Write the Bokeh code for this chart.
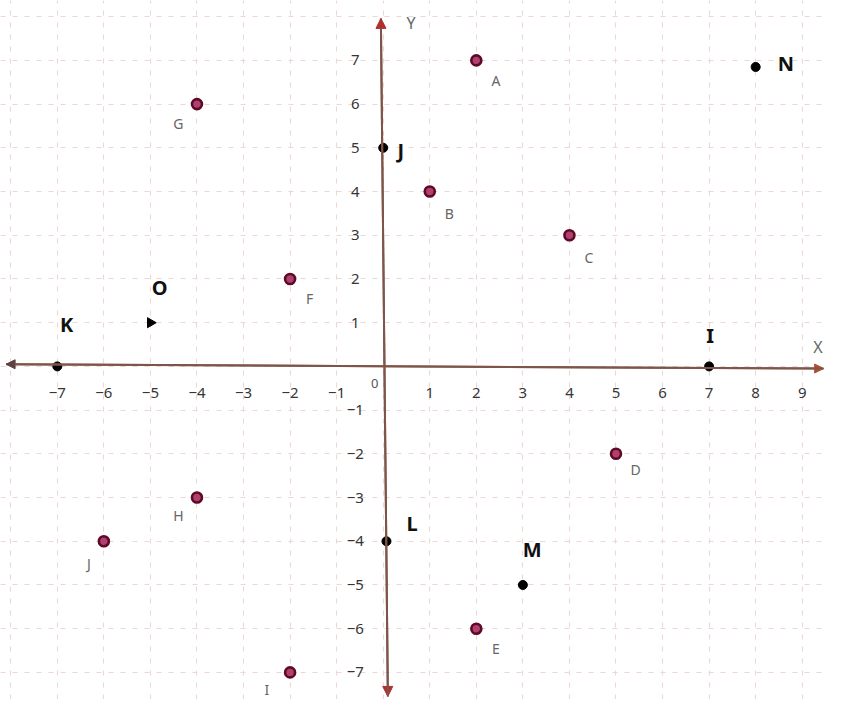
import math
from bokeh.plotting import figure
from bokeh.models import ColumnDataSource, Arrow, NormalHead, Range1d, FixedTicker
from bokeh.core.properties import value
from bokeh.embed import file_html
from bokeh.resources import INLINE

# ---- data ----
red_names = ["A", "B", "C", "D", "E", "F", "G", "H", "I", "J"]
red_x = [2, 1, 4, 5, 2, -2, -4, -4, -2, -6]
red_y = [7, 4, 3, -2, -6, 2, 6, -3, -7, -4]

black_names = ["J", "K", "L", "M", "N", "I", "O"]
black_x = [0, -7, 0.07, 3, 8, 7, -5]
black_y = [5, 0, -4, -5, 6.85, 0, 1]

x_ticks = [-7, -6, -5, -4, -3, -2, -1, 1, 2, 3, 4, 5, 6, 7, 8, 9]
y_ticks = [7, 6, 5, 4, 3, 2, 1, -1, -2, -3, -4, -5, -6, -7]

# ---- style / layout ----
W, H = 825, 699
p = figure(width=W, height=H, output_backend="svg", toolbar_location=None,
           x_range=Range1d(-8.22, 9.5), y_range=Range1d(-7.62, 8.37),
           min_border=0, background_fill_color="white", border_fill_color="white")
p.axis.visible = False
p.outline_line_color = None
p.xgrid.ticker = FixedTicker(ticks=list(range(-8, 10)))
p.ygrid.ticker = FixedTicker(ticks=list(range(-8, 9)))
for g in (p.xgrid, p.ygrid):
    g.grid_line_color = "#ecd6d6"
    g.grid_line_dash = "5 7"
    g.grid_line_width = 1.1

axis_col = "#7e5548"
p.add_layout(Arrow(x_start=-0.05, y_start=7.96, x_end=0.1, y_end=-7.55,
                   line_color=axis_col, line_width=2,
                   end=NormalHead(size=10, fill_color="#b03030", line_color="#b03030")))
p.add_layout(Arrow(x_start=0.1, y_start=-7.55, x_end=-0.05, y_end=7.96,
                   line_color=axis_col, line_width=2,
                   end=NormalHead(size=10, fill_color="#b03030", line_color="#b03030")))
p.add_layout(Arrow(x_start=-8.1, y_start=0.05, x_end=9.46, y_end=-0.05,
                   line_color=axis_col, line_width=2,
                   end=NormalHead(size=9, fill_color="#b05030", line_color="#b05030")))
p.add_layout(Arrow(x_start=9.46, y_start=-0.05, x_end=-8.1, y_end=0.05,
                   line_color=axis_col, line_width=2,
                   end=NormalHead(size=9, fill_color="#604040", line_color="#604040")))

font = value("Noto Sans")
tick_col = "#363636"
p.text(x=x_ticks, y=[-0.62] * len(x_ticks), text=[str(t).replace("-", "−") for t in x_ticks],
       text_font=font, text_font_size="15px", text_color=tick_col,
       text_align="center", text_baseline="middle")
p.text(x=[-0.6] * len(y_ticks), y=y_ticks, text=[str(t).replace("-", "−") for t in y_ticks],
       text_font=font, text_font_size="15px", text_color=tick_col,
       text_align="center", text_baseline="middle")
p.text(x=[-0.18], y=[-0.38], text=["0"], text_font=font, text_font_size="13px",
       text_color="#555555", text_align="center", text_baseline="middle")
p.text(x=[0.6], y=[7.85], text=["Y"], text_font=font, text_font_size="16px",
       text_color="#666666", text_align="center", text_baseline="middle")
p.text(x=[9.44], y=[0.45], text=["X"], text_font=font, text_font_size="16px",
       text_color="#666666", text_align="right", text_baseline="middle")

# red points
src_r = ColumnDataSource(dict(x=red_x, y=red_y, name=red_names))
p.scatter("x", "y", source=src_r, size=10, fill_color="#b04070",
          line_color="#5e0a24", line_width=2.6)
red_dx = [0.42, 0.42, 0.42, 0.42, 0.42, 0.42, -0.4, -0.4, -0.5, -0.32]
red_dy = [-0.45, -0.5, -0.5, -0.35, -0.45, -0.45, -0.45, -0.42, -0.4, -0.52]
p.text(x=[a + b for a, b in zip(red_x, red_dx)], y=[a + b for a, b in zip(red_y, red_dy)],
       text=red_names, text_font=font, text_font_size="14px", text_color="#666666",
       text_align="center", text_baseline="middle")

# black points
p.scatter(black_x[:-1], black_y[:-1], size=9, fill_color="black", line_color="black")
p.scatter([black_x[-1]], [black_y[-1]], marker="triangle", angle=-math.pi / 2,
          size=10, fill_color="black", line_color="black")
blk_dx = [0.38, 0.2, 0.55, 0.2, 0.65, 0.02, 0.2]
blk_dy = [-0.05, 0.95, 0.4, 0.8, 0.07, 0.7, 0.8]
p.text(x=[a + b for a, b in zip(black_x, blk_dx)], y=[a + b for a, b in zip(black_y, blk_dy)],
       text=black_names, text_font=font, text_font_size="20px", text_font_style="bold",
       text_color="#111111", text_align="center", text_baseline="middle")

open("out.html", "w").write(file_html(p, INLINE))
